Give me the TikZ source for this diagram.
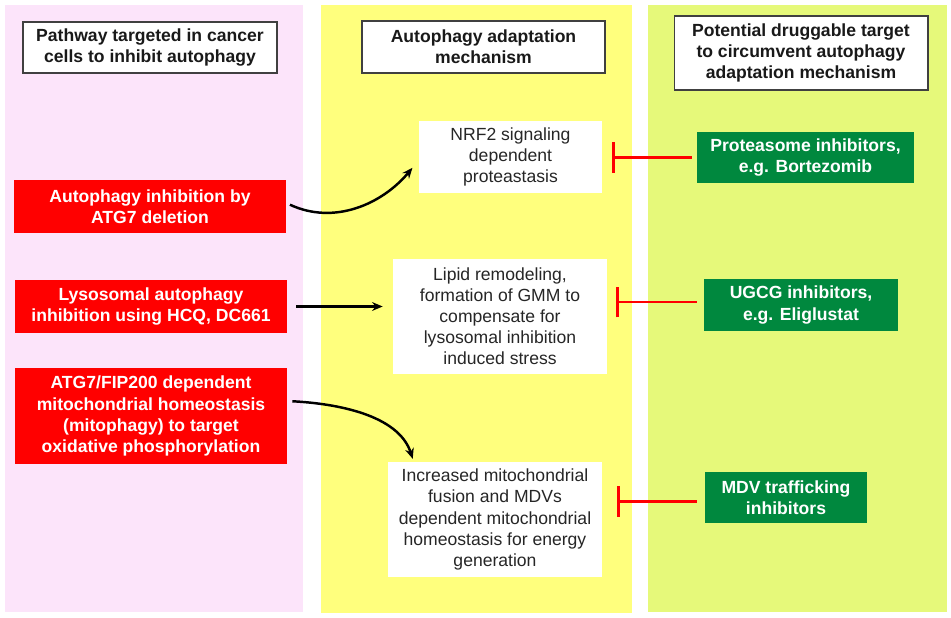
\documentclass[tikz,border=0pt]{standalone}
\usepackage{fontspec}
\setmainfont{Liberation Sans}
\usepackage{tikz}
\usetikzlibrary{arrows.meta}
\definecolor{pinkpanel}{RGB}{252,228,250}
\definecolor{yellowpanel}{RGB}{255,255,125}
\definecolor{greenpanel}{RGB}{230,249,122}
\definecolor{druggreen}{RGB}{0,136,62}
\tikzset{headbox/.style={shape=rectangle, draw=black!75, line width=0.6pt, fill=white, inner sep=0pt, align=center, font=\fontsize{10}{12}\selectfont\bfseries, text=black!90}}
\tikzset{redbox/.style={shape=rectangle, fill=red, inner sep=0pt, minimum width=5.44cm, align=center, font=\fontsize{10}{12}\selectfont\bfseries, text=white}}
\tikzset{mechbox/.style={shape=rectangle, fill=white, inner sep=0pt, align=center, font=\fontsize{10}{12}\selectfont, text=black!85}}
\tikzset{drugbox/.style={shape=rectangle, fill=druggreen, inner sep=0pt, align=center, font=\fontsize{10}{12}\selectfont\bfseries, text=white}}
\tikzset{inhib/.style={draw=red, line width=1.5pt, -{Bar[width=0.62cm]}}}
\tikzset{pathway/.style={draw=black, line width=1.4pt, -{Stealth[length=6pt,width=5pt]}}}

\begin{document}
\begin{tikzpicture}[x=0.02cm, y=-0.02cm]
\useasboundingbox (0,0) rectangle (951,618);
\fill[color = white] (0,0) rectangle (951,618);
\fill[color = pinkpanel] (5,5) rectangle (303,612);
\fill[color = yellowpanel] (321,5) rectangle (632,613);
\fill[color = greenpanel] (648,5) rectangle (947,612);
\node[style=headbox, minimum width=5.08cm, minimum height=1.02cm] (head1) at (150,47.5) {Pathway targeted in cancer\\cells to inhibit autophagy};
\node[style=headbox, minimum width=4.86cm, minimum height=1.04cm] (head2) at (483.5,47) {Autophagy adaptation\\mechanism};
\node[style=headbox, minimum width=5.08cm, minimum height=1.48cm] (head3) at (801,53) {Potential druggable target\\to circumvent autophagy\\adaptation mechanism};
\node[style=redbox, minimum height=1.06cm] (atg7) at (150,206.5) {Autophagy inhibition by\\ATG7 deletion};
\node[style=redbox, minimum height=1.06cm] (lyso) at (151,306.5) {Lysosomal autophagy\\inhibition using HCQ, DC661};
\node[style=redbox, minimum height=1.92cm] (mito) at (151,416) {ATG7/FIP200 dependent\\mitochondrial homeostasis\\(mitophagy) to target\\oxidative phosphorylation};
\node[style=mechbox, minimum width=3.66cm, minimum height=1.44cm] (nrf2) at (510.5,157) {NRF2 signaling\\dependent\\proteastasis};
\node[style=mechbox, minimum width=4.28cm, minimum height=2.3cm] (lipid) at (500,316.5) {Lipid remodeling,\\formation of GMM to\\compensate for\\lysosomal inhibition\\induced stress};
\node[style=mechbox, minimum width=4.28cm, minimum height=2.3cm] (fusion) at (495,519.5) {Increased mitochondrial\\fusion and MDVs\\dependent mitochondrial\\homeostasis for energy\\generation};
\node[style=drugbox, minimum width=4.34cm, minimum height=1.02cm] (protea) at (805.5,157.5) {Proteasome inhibitors,\\e.g. Bortezomib};
\node[style=drugbox, minimum width=3.88cm, minimum height=1.04cm] (ugcg) at (801,305) {UGCG inhibitors,\\e.g. Eliglustat};
\node[style=drugbox, minimum width=3.24cm, minimum height=1.02cm] (mdv) at (786,497.5) {MDV trafficking\\inhibitors};
\draw [style=pathway, shorten <=0.08cm, shorten >=0.1cm] ([yshift=0.07cm]atg7.east) to [out=-25,in=230] ([xshift=-0.06cm,yshift=-0.14cm]nrf2.west);
\draw [style=pathway, shorten <=0.18cm, shorten >=0.2cm] (lyso.east) -- (lyso.east -| lipid.west);
\draw [style=pathway, shorten <=0.1cm, shorten >=0.06cm] ([yshift=0.3cm]mito.east) to [out=-3,in=108,looseness=0.9] ([xshift=0.52cm]fusion.north west);
\draw [style=inhib, shorten <=0.1cm, shorten >=0.2cm] (protea.west) -- (protea.west -| nrf2.east);
\draw [style=inhib, shorten <=0.14cm, shorten >=0.18cm] ([yshift=0.06cm]ugcg.west) -- ([yshift=0.06cm]ugcg.west -| lipid.east);
\draw [style=inhib, shorten <=0.16cm, shorten >=0.3cm] ([yshift=-0.08cm]mdv.west) -- ([yshift=-0.08cm]mdv.west -| fusion.east);
\end{tikzpicture}
\end{document}
